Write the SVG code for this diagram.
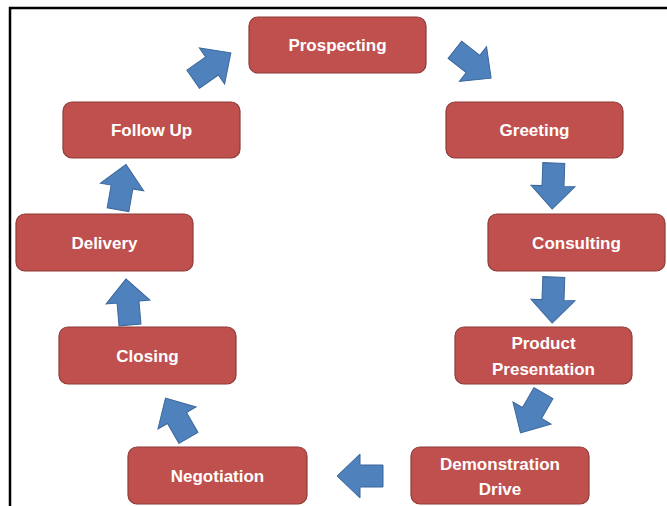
<svg xmlns="http://www.w3.org/2000/svg" width="667" height="506" viewBox="0 0 667 506">
<defs>
<style>
.box{fill:#c0504d;stroke:#8e3b39;stroke-width:1.2}
.lbl{font-family:"Liberation Sans",Arial,sans-serif;font-weight:bold;font-size:17px;fill:#ffffff;text-anchor:middle}
.arr{fill:#4f81bd;stroke:#3b679a;stroke-width:1}
</style>
<path id="ar" d="M -23,-11 L 0,-11 L 0,-22 L 23,0 L 0,22 L 0,11 L -23,11 Z"/>
</defs>
<rect x="0" y="0" width="667" height="506" fill="#ffffff"/>
<rect x="10" y="8" width="700" height="540" fill="none" stroke="#000000" stroke-width="2.5"/>
<g id="connectors">
<use href="#ar" class="arr" transform="translate(212,66) rotate(-35)"/>
<use href="#ar" class="arr" transform="translate(473,64) rotate(38)"/>
<use href="#ar" class="arr" transform="translate(553,186) rotate(92)"/>
<use href="#ar" class="arr" transform="translate(553,300) rotate(92)"/>
<use href="#ar" class="arr" transform="translate(532,413) rotate(120)"/>
<use href="#ar" class="arr" transform="translate(360,476) rotate(180)"/>
<use href="#ar" class="arr" transform="translate(177,418) rotate(-120)"/>
<use href="#ar" class="arr" transform="translate(128,302) rotate(-95)"/>
<use href="#ar" class="arr" transform="translate(122,187) rotate(-80)"/>
</g>
<g id="prospecting"><rect class="box" x="249" y="17" width="177" height="56" rx="9"/><text class="lbl" x="337.5" y="51">Prospecting</text></g>
<g id="greeting"><rect class="box" x="446" y="102" width="177" height="56" rx="9"/><text class="lbl" x="534.5" y="136">Greeting</text></g>
<g id="consulting"><rect class="box" x="488" y="214" width="177" height="57" rx="9"/><text class="lbl" x="576.5" y="249">Consulting</text></g>
<g id="product-presentation"><rect class="box" x="455" y="327" width="177" height="57" rx="9"/><text class="lbl" x="543.5" y="349">Product</text><text class="lbl" x="543.5" y="375">Presentation</text></g>
<g id="demonstration-drive"><rect class="box" x="411" y="447" width="178" height="57" rx="9"/><text class="lbl" x="500" y="470">Demonstration</text><text class="lbl" x="500" y="495">Drive</text></g>
<g id="negotiation"><rect class="box" x="128" y="447" width="179" height="57" rx="9"/><text class="lbl" x="217.5" y="482">Negotiation</text></g>
<g id="closing"><rect class="box" x="59" y="327" width="177" height="57" rx="9"/><text class="lbl" x="147.5" y="362">Closing</text></g>
<g id="delivery"><rect class="box" x="16" y="214" width="177" height="57" rx="9"/><text class="lbl" x="104.5" y="249">Delivery</text></g>
<g id="follow-up"><rect class="box" x="63" y="102" width="177" height="56" rx="9"/><text class="lbl" x="151.5" y="136">Follow Up</text></g>
</svg>
